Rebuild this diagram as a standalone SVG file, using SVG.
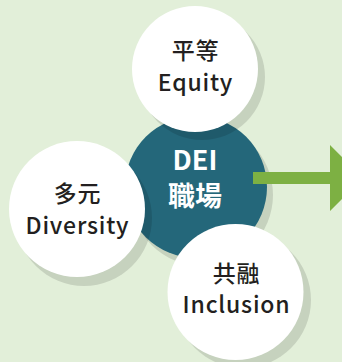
<svg xmlns="http://www.w3.org/2000/svg" width="342" height="362" viewBox="0 0 342 362">
  <style>
    .bg { fill: #E2EFD9; }
    .shadow { fill: #000000; opacity: 0.12; }
    .white { fill: #FFFFFF; }
    .core { fill: #24677A; }
    .lbl { font-family: "Noto Sans CJK TC", "Noto Sans", sans-serif; font-weight: 500; font-size: 23px; letter-spacing: 0.8px; fill: #231F20; text-anchor: middle; }
    .core-lbl { font-family: "Noto Sans CJK TC", "Noto Sans", sans-serif; font-weight: 700; font-size: 27px; fill: #FFFFFF; text-anchor: middle; }
    .arrow { fill: #7DB043; }
  </style>
  <rect class="bg" x="0" y="0" width="342" height="362"/>

  <g id="core">
    <circle class="shadow" cx="202" cy="195" r="71"/>
    <circle class="core" cx="196" cy="187" r="71"/>
  </g>

  <g id="connectors">
    <polygon class="arrow" points="253,172 330,172 330,145 363,178 330,211 330,184 253,184"/>
  </g>

  <g id="core-text">
    <text class="core-lbl" x="195" y="170">DEI</text>
    <text class="core-lbl" x="195" y="206">職場</text>
  </g>

  <g id="equity">
    <circle class="shadow" cx="202" cy="77" r="63"/>
    <circle class="white" cx="195" cy="69" r="63"/>
    <text class="lbl" x="195.5" y="59">平等</text>
    <text class="lbl" x="195.5" y="90.5">Equity</text>
  </g>

  <g id="diversity">
    <circle class="shadow" cx="84" cy="218" r="68"/>
    <circle class="white" cx="77" cy="209" r="68"/>
    <text class="lbl" x="77.5" y="201.5">多元</text>
    <text class="lbl" x="77.5" y="234">Diversity</text>
  </g>

  <g id="inclusion">
    <circle class="shadow" cx="243" cy="300" r="68"/>
    <circle class="white" cx="235.5" cy="292" r="68"/>
    <text class="lbl" x="236.5" y="282">共融</text>
    <text class="lbl" x="236.5" y="313">Inclusion</text>
  </g>
</svg>
